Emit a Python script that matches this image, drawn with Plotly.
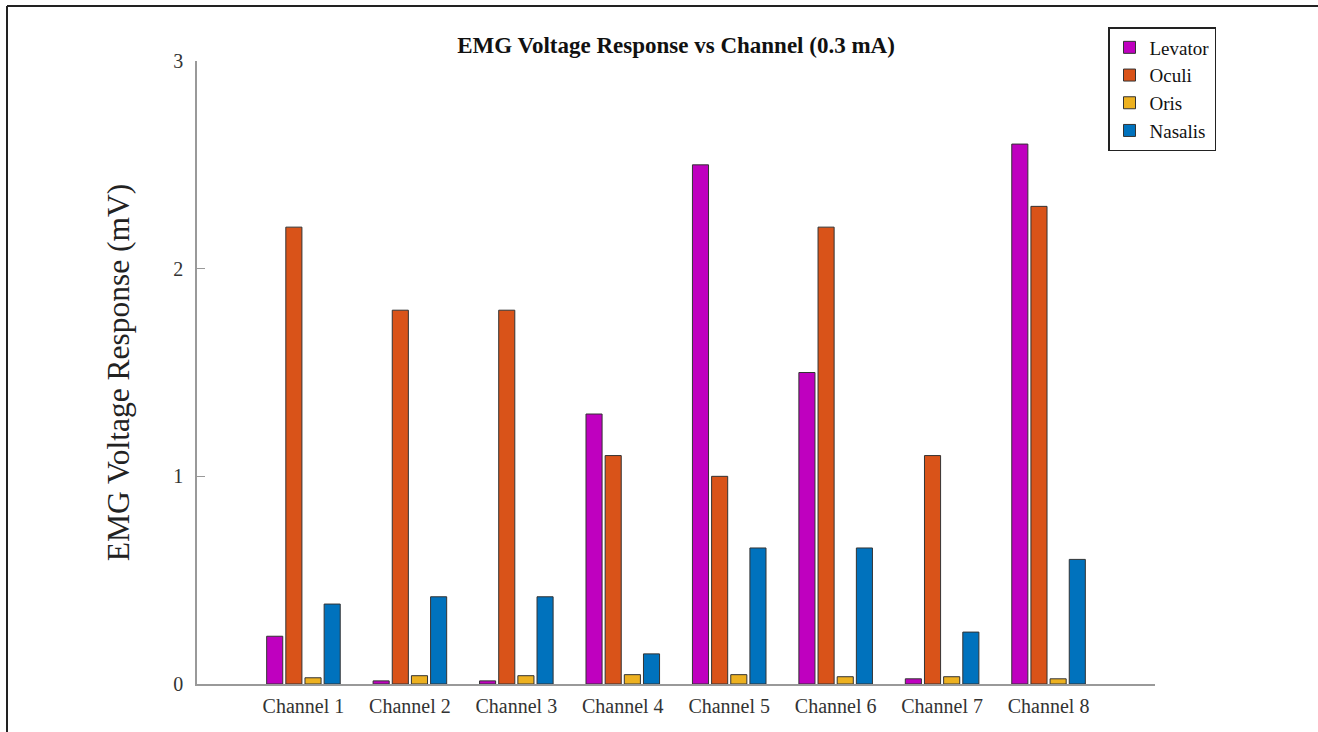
import plotly.graph_objects as go

channels = ["Channel 1", "Channel 2", "Channel 3", "Channel 4",
            "Channel 5", "Channel 6", "Channel 7", "Channel 8"]
levator = [0.23, 0.015, 0.015, 1.3, 2.5, 1.5, 0.025, 2.6]
oculi = [2.2, 1.8, 1.8, 1.1, 1.0, 2.2, 1.1, 2.3]
oris = [0.03, 0.04, 0.04, 0.045, 0.045, 0.035, 0.035, 0.025]
nasalis = [0.385, 0.42, 0.42, 0.145, 0.655, 0.655, 0.25, 0.6]

series = [("Levator", levator, "#BF00BF"),
          ("Oculi", oculi, "#D95319"),
          ("Oris", oris, "#EDB120"),
          ("Nasalis", nasalis, "#0072BD")]

FONT = "Liberation Serif"

fig = go.Figure()
for name, vals, color in series:
    fig.add_trace(go.Bar(
        x=channels, y=vals, name=name,
        marker=dict(color=color, line=dict(color="#333333", width=1)),
    ))

W, H = 1318, 732
L, R, T, B = 197, 1155, 61, 684

def px(x):
    return (x - L) / (R - L)

def py(y):
    return (B - y) / (B - T)

fig.update_layout(
    width=W, height=H,
    margin=dict(l=L, r=W - R, t=T, b=H - B),
    paper_bgcolor="white", plot_bgcolor="white",
    barmode="group", bargap=0.28, bargroupgap=0.16,
    font=dict(family=FONT, color="#222222", size=20),
    title=dict(text="<b>EMG Voltage Response vs Channel (0.3 mA)</b>",
               x=0.5, xref="paper", xanchor="center",
               y=1 - 45 / H, yref="container", yanchor="middle",
               font=dict(family=FONT, size=23, color="#111111")),
    showlegend=True,
    legend=dict(x=px(1108), y=py(27), xanchor="left", yanchor="top",
                bordercolor="#222222", borderwidth=1.5, bgcolor="white",
                font=dict(family=FONT, size=19, color="#111111"),
                tracegroupgap=0, itemwidth=30),
    xaxis=dict(range=[-1, 8], showline=True, linecolor="#999999", linewidth=1.5,
               ticks="", showgrid=False, zeroline=False, ticklabelstandoff=3,
               tickfont=dict(family=FONT, size=20, color="#333333")),
    yaxis=dict(range=[0, 3], tickvals=[0, 1, 2, 3], showline=True,
               linecolor="#999999", linewidth=1.5, ticks="inside", ticklen=8,
               tickcolor="#999999", showgrid=False, zeroline=False,
               ticklabelstandoff=8,
               tickfont=dict(family=FONT, size=20, color="#333333"),
               title=dict(text="EMG Voltage Response (mV)", standoff=34,
                          font=dict(family=FONT, size=31.5, color="#222222"))),
    shapes=[
        dict(type="line", xref="paper", yref="paper",
             x0=px(7), x1=px(1318), y0=py(6), y1=py(6),
             line=dict(color="#222222", width=2)),
        dict(type="line", xref="paper", yref="paper",
             x0=px(7), x1=px(7), y0=py(6), y1=py(732),
             line=dict(color="#222222", width=2)),
    ],
)

fig.write_html("out.html",
               config={"displayModeBar": False},
               post_script="document.body.style.margin='0';"
                           "document.body.style.overflow='hidden';")
